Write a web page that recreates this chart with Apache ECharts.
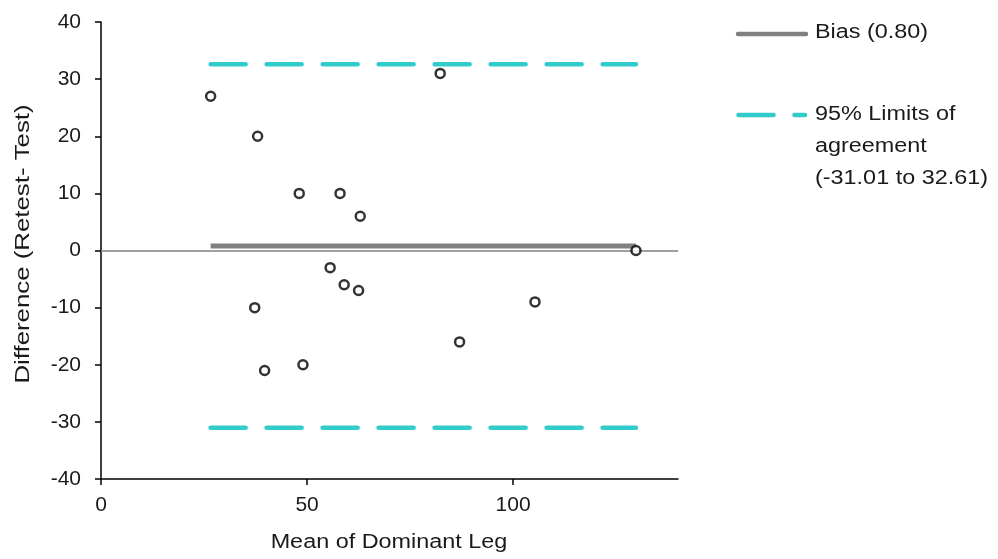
<!DOCTYPE html>
<html><head><meta charset="utf-8">
<script src="https://cdn.jsdelivr.net/npm/echarts@6/dist/echarts.min.js"></script>
<style>html,body{margin:0;padding:0;background:#fff}#c{width:998px;height:559px}</style>
</head><body><div id="c"></div>
<script>
const meanX = [26.6, 38.0, 48.1, 58.0, 62.9, 82.3, 55.6, 59.0, 62.5, 105.3, 87.0, 129.8, 49.0, 37.3, 39.7];
const diffY = [27, 20, 10, 10, 6, 31, -3, -6, -7, -9, -16, 0, -20, -10, -21];
const bias = 0.80;
const lowerLoA = -31.01;
const upperLoA = 32.61;
const xTicks = [0, 50, 100];
const yTicks = [-40, -30, -20, -10, 0, 10, 20, 30, 40];
const xTitle = 'Mean of Dominant Leg';
const yTitle = 'Difference (Retest- Test)';
const legendLabels = ['Bias (0.80)', '95% Limits of\nagreement\n(-31.01 to 32.61)'];

const FONT = '"Liberation Sans", Arial, sans-serif';
const TXT = '#1a1a1a';
const CYAN = '#33CCCC';
const GRAY = '#808080';
const DASH = [35, 21];
const SX = 1.17;
const xs = Math.min(...meanX), xe = Math.max(...meanX);
const pts = meanX.map((x, i) => [x, diffY[i]]);

const chart = echarts.init(document.getElementById('c'));
chart.setOption({
  animation: false,
  backgroundColor: '#fff',
  grid: { left: 101, right: 320, top: 22, bottom: 80 },
  xAxis: {
    type: 'value', min: 0, max: 140,
    axisLine: { onZero: false, lineStyle: { color: '#000', width: 1.5 } },
    axisTick: { show: true, length: 6, lineStyle: { color: '#000', width: 1.5 }, customValues: xTicks },
    axisLabel: { fontFamily: FONT, fontSize: 21, color: TXT, margin: 16, customValues: xTicks },
    splitLine: { show: false }
  },
  yAxis: {
    type: 'value', min: yTicks[0], max: yTicks[yTicks.length - 1], interval: 10,
    axisLine: { show: true, onZero: false, lineStyle: { color: '#000', width: 1.5 } },
    axisTick: { show: true, length: 6, lineStyle: { color: '#000', width: 1.5 } },
    axisLabel: { fontFamily: FONT, fontSize: 21, color: TXT, margin: 20 },
    splitLine: { show: false }
  },
  series: [
    {
      type: 'line', name: 'zero', data: [], silent: true,
      markLine: { silent: true, symbol: 'none', label: { show: false },
        lineStyle: { color: GRAY, width: 1.5, type: 'solid' }, data: [{ yAxis: 0 }] }
    },
    {
      type: 'line', name: 'Bias', data: [[xs, bias], [xe, bias]], showSymbol: false, silent: true,
      lineStyle: { color: GRAY, width: 5, cap: 'butt' }
    },
    {
      type: 'line', name: 'Upper', data: [[xs, upperLoA], [xe, upperLoA]], showSymbol: false, silent: true,
      lineStyle: { color: CYAN, width: 4.5, type: DASH, cap: 'round' }
    },
    {
      type: 'line', name: 'Lower', data: [[xs, lowerLoA], [xe, lowerLoA]], showSymbol: false, silent: true,
      lineStyle: { color: CYAN, width: 4.5, type: DASH, cap: 'round' }
    },
    {
      type: 'scatter', name: 'points', data: pts, symbol: 'circle', symbolSize: 9,
      itemStyle: { color: '#fff', borderColor: '#000', borderWidth: 2.5 }, z: 5
    }
  ],
  graphic: [
    { type: 'text', x: 389, y: 542, scaleX: SX,
      style: { text: xTitle, font: '20px ' + FONT, fill: TXT, textAlign: 'center', textVerticalAlign: 'middle' } },
    { type: 'text', x: 23, y: 244, rotation: Math.PI / 2, scaleX: 1.29,
      style: { text: yTitle, font: '20px ' + FONT, fill: TXT, textAlign: 'center', textVerticalAlign: 'middle' } },
    { type: 'line', shape: { x1: 738, y1: 34, x2: 806, y2: 34 }, style: { stroke: GRAY, lineWidth: 4.5, lineCap: 'round' } },
    { type: 'text', x: 815, y: 32, scaleX: SX,
      style: { text: legendLabels[0], font: '20px ' + FONT, fill: TXT, textVerticalAlign: 'middle' } },
    { type: 'line', shape: { x1: 738.5, y1: 115, x2: 805, y2: 115 }, style: { stroke: CYAN, lineWidth: 4.5, lineCap: 'round', lineDash: DASH } },
    { type: 'text', x: 815, y: 98, scaleX: SX,
      style: { text: legendLabels[1], font: '20px ' + FONT, fill: TXT, lineHeight: 32, textVerticalAlign: 'top' } }
  ]
});
</script></body></html>
